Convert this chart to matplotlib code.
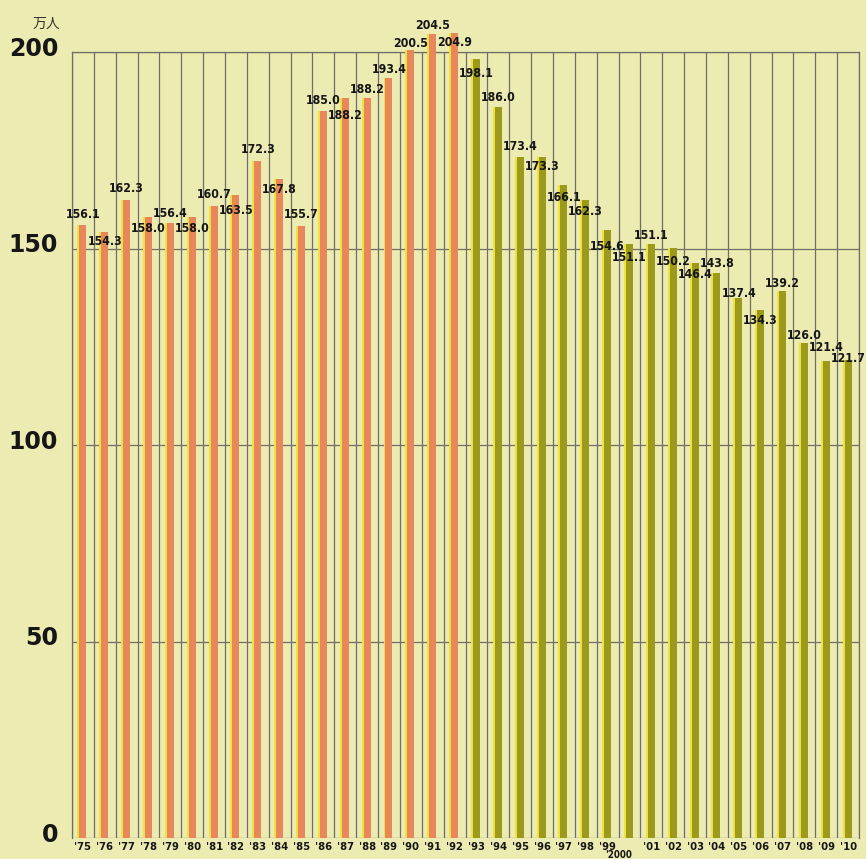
import matplotlib
matplotlib.use("Agg")
import matplotlib.pyplot as plt
from matplotlib.transforms import ScaledTranslation
import numpy as np

# 万人, per year
years = ["'75", "'76", "'77", "'78", "'79", "'80", "'81", "'82", "'83", "'84",
         "'85", "'86", "'87", "'88", "'89", "'90", "'91", "'92", "'93", "'94",
         "'95", "'96", "'97", "'98", "'99", "'2000", "'01", "'02", "'03", "'04",
         "'05", "'06", "'07", "'08", "'09", "'10"]
values = [156.1, 154.3, 162.3, 158.0, 156.4, 158.0, 160.7, 163.5, 172.3, 167.8,
          155.7, 185.0, 188.2, 188.2, 193.4, 200.5, 204.5, 204.9, 198.1, 186.0,
          173.4, 173.3, 166.1, 162.3, 154.6, 151.1, 151.1, 150.2, 146.4, 143.8,
          137.4, 134.3, 139.2, 126.0, 121.4, 121.7]
# label offset from bar top (pixels, + above / - below), as printed
label_offset = [10, -10, 12, -11, 10, -11, 12, -15, 11, -11,
                12, 10, -17, 9, 8, 7, 9, -10, -14, 10,
                10, -10, -12, -11, -16, -13, 9, -14, -12, 9,
                5, -10, 7, 7, 13, 1]
split_year = 18  # first olive bar ('93)

bg = "#ecebb2"
orange = "#e8875c"
olive = "#9c9a1c"
hilite = "#efe23a"
gridc = "#6f6f66"

fig = plt.figure(figsize=(8.66, 8.59), dpi=100, facecolor=bg)
ax = fig.add_axes([72 / 866, 1 - 838 / 859, 787 / 866, 786 / 859])
ax.set_facecolor(bg)

x = np.arange(len(values))
colors = [orange if i < split_year else olive for i in x]

ax.bar(x - 0.205, values, width=0.09, color=hilite, zorder=3, clip_on=False)
ax.bar(x, values, width=0.32, color=colors, zorder=3, clip_on=False)

px = 72 / fig.dpi
for xi, v, off in zip(x, values, label_offset):
    ax.annotate(f"{v:.1f}", (xi, v), xytext=(0, off * px), textcoords="offset points",
                ha="center", va="center", fontsize=8.8, fontweight="bold",
                fontstretch="condensed", family="DejaVu Sans", color="#161616",
                zorder=5, annotation_clip=False)

ax.set_xlim(-0.5, len(values) - 0.5)
ax.set_ylim(0, 200)

ax.set_xticks(x)
ax.set_xticklabels(years, fontsize=8, fontweight="bold", fontstretch="condensed",
                   family="DejaVu Sans", color="#161616")
ax.set_xticks(np.arange(len(values) + 1) - 0.5, minor=True)
ax.tick_params(axis="x", which="both", length=0, pad=3)
ax.xaxis.grid(True, which="minor", color=gridc, lw=0.9, zorder=1)

lbl = ax.get_xticklabels()[years.index("'2000")]
lbl.set_fontsize(7)
lbl.set_transform(lbl.get_transform() + ScaledTranslation(-8 / 72, -6 / 72, fig.dpi_scale_trans))

ax.set_yticks([0, 50, 100, 150, 200])
ax.set_yticklabels(["0", "50", "100", "150", "200"], fontsize=17, fontweight="bold",
                   family="DejaVu Sans", color="#161616")
ax.tick_params(axis="y", length=0, pad=10)
for t in ax.get_yticklabels():
    t.set_transform(t.get_transform() + ScaledTranslation(0, 4 / 72, fig.dpi_scale_trans))
ax.yaxis.grid(True, color=gridc, lw=0.9, zorder=1)

for s in ["top", "left", "right"]:
    ax.spines[s].set_color(gridc)
    ax.spines[s].set_linewidth(0.9)
ax.spines["bottom"].set_visible(False)

fig.text(46 / 866, 1 - 24 / 859, "万人", fontsize=10, ha="center", va="center",
         family=["Noto Sans CJK JP", "DejaVu Sans"], color="#333333")

fig.savefig("out.png", dpi=100, facecolor=bg)
